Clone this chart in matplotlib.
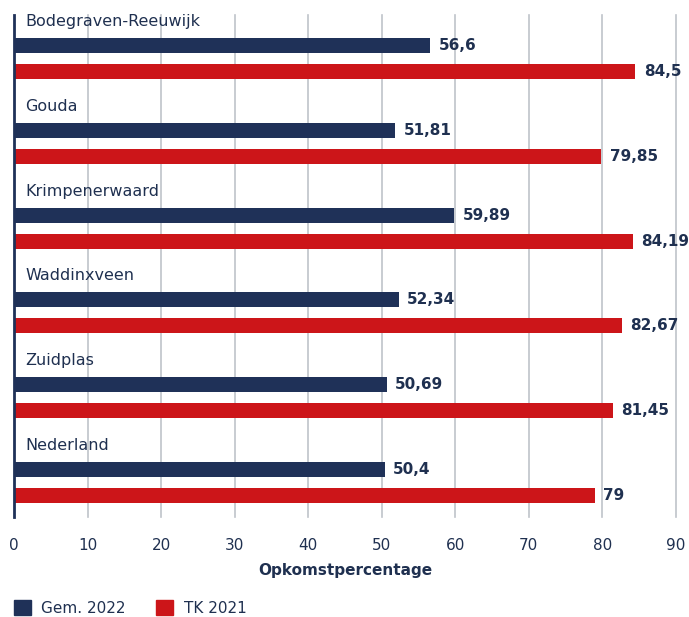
import numpy as np
import matplotlib
matplotlib.use("Agg")
import matplotlib.pyplot as plt
from matplotlib.patches import Patch

plt.rcParams['font.family'] = ['DejaVu Sans']

gemeenten = ['Bodegraven-Reeuwijk', 'Gouda', 'Krimpenerwaard', 'Waddinxveen', 'Zuidplas', 'Nederland']
gem_2022 = [56.6, 51.81, 59.89, 52.34, 50.69, 50.4]
tk_2021 = [84.5, 79.85, 84.19, 82.67, 81.45, 79]
gem_labels = ['56,6', '51,81', '59,89', '52,34', '50,69', '50,4']
tk_labels = ['84,5', '79,85', '84,19', '82,67', '81,45', '79']

navy = '#1f3158'
red = '#cc1519'
txt = '#1f3050'

fig = plt.figure(figsize=(6.89, 6.17), dpi=100)
ax = fig.add_axes([0.0203, 0.162, 0.9607, 0.8138])

y = np.arange(len(gemeenten))
h = 0.177
ax.barh(y, gem_2022, height=h, color=navy, zorder=3)
ax.barh(y + 0.307, tk_2021, height=h, color=red, zorder=3)

for i in range(len(gemeenten)):
    ax.text(1.5, y[i] - 0.284, gemeenten[i], va='center', ha='left', fontsize=11.5, color=txt)
    ax.annotate(gem_labels[i], (gem_2022[i], y[i]), xytext=(6, 0), textcoords='offset points',
                va='center', ha='left', fontsize=11, fontweight='bold', color=txt)
    ax.annotate(tk_labels[i], (tk_2021[i], y[i] + 0.307), xytext=(6, 0), textcoords='offset points',
                va='center', ha='left', fontsize=11, fontweight='bold', color=txt)

ax.set_xlim(0, 90)
ax.set_ylim(5.567, -0.366)
ax.set_xticks(range(0, 91, 10))
ax.set_yticks([])
for xv in range(10, 91, 10):
    ax.axvline(xv, color='#bfc3ca', linewidth=1.2, zorder=0, clip_on=False)
ax.tick_params(axis='x', length=0, pad=15, labelsize=11, labelcolor=txt)
for s in ['top', 'right', 'bottom']:
    ax.spines[s].set_visible(False)
ax.spines['left'].set_color(navy)
ax.spines['left'].set_linewidth(2)
ax.spines['left'].set_zorder(4)
ax.set_xlabel('Opkomstpercentage', fontsize=11, fontweight='bold', color=txt, labelpad=7)

handles = [Patch(color=navy, label='Gem. 2022'), Patch(color=red, label='TK 2021')]
fig.legend(handles=handles, loc='lower left', bbox_to_anchor=(0.0, -0.02), ncol=2, frameon=False,
           fontsize=11, labelcolor=txt, handlelength=1.1, handleheight=1.1, columnspacing=2.0,
           handletextpad=0.7)

fig.savefig('out.png', dpi=100)
